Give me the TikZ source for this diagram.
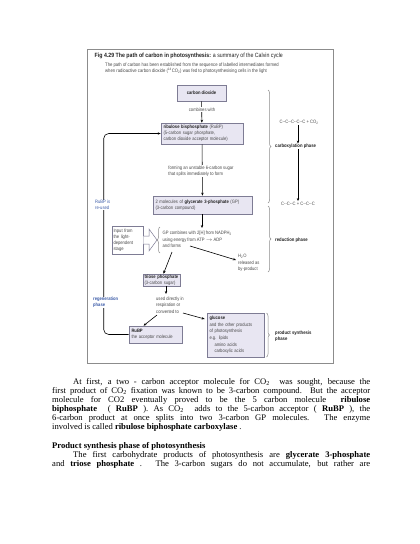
\documentclass[tikz,border=0pt]{standalone}
\usepackage{fontspec}
\setmainfont{Liberation Serif}
\newfontfamily\dfont[FakeStretch=0.86]{Liberation Sans}
\usetikzlibrary{arrows.meta,decorations.pathreplacing,calc}
\definecolor{boxfill}{HTML}{E8E6F2}
\definecolor{boxline}{HTML}{7E7C94}
\definecolor{dtext}{HTML}{484848}
\definecolor{dbold}{HTML}{222222}
\definecolor{bluet}{HTML}{3A5AA8}
\definecolor{framec}{HTML}{8C8C8C}
\newcommand\bld[1]{\textbf{\color{dbold}#1}}
\begin{document}
\begin{tikzpicture}[x=1pt,y=-1pt,
  box/.style={draw=boxline, fill=boxfill, line width=0.6pt, inner xsep=2.5pt, inner ysep=1pt, align=left,
    font=\dfont\fontsize{4.8}{6.1}\selectfont, text=dtext},
  lbl/.style={inner sep=0.5pt, font=\dfont\fontsize{4.8}{6.4}\selectfont, text=dtext, align=left},
  plbl/.style={inner sep=0.5pt, font=\dfont\bfseries\fontsize{4.9}{6.4}\selectfont, text=dbold, align=left, anchor=west},
  arr/.style={-{Stealth[length=3pt,width=2.4pt]}, line width=0.6pt},
  brc/.style={decorate, decoration={brace, amplitude=3pt}, draw=framec, line width=0.5pt},
  body/.style={anchor=base west, inner sep=0pt, font=\fontsize{8.6}{9.5}\selectfont}
]
\fill[white] (0,0) rectangle (420,544);
\useasboundingbox (0,0) rectangle (420,544);
% frame
\draw[framec, line width=0.8pt] (87,49) rectangle (333,363);
% title
\node[anchor=west, inner sep=0pt, font=\dfont\fontsize{6.1}{7}\selectfont, text=dbold] (title) at (94.5,56)
  {\textbf{Fig 4.29 The path of carbon in photosynthesis:} a summary of the Calvin cycle};
\node[anchor=north west, inner sep=0pt, align=left, font=\dfont\fontsize{4.9}{6.2}\selectfont, text=dtext] (sub) at (105,63)
  {The path of carbon has been established from the sequence of labelled intermediates formed\\
   when radioactive carbon dioxide (\textsuperscript{14}CO\textsubscript{2}) was fed to photosynthesising cells in the light};
% boxes
\node[box, minimum width=49pt, minimum height=16pt, align=center] (co2) at (201.5,93) {\bld{carbon dioxide}};
\node[box, text width=77pt, minimum height=21pt] (rubp) at (202,133.5)
  {\bld{ribulose bisphosphate} (RuBP)\\(5-carbon sugar phosphate,\\carbon dioxide acceptor molecule)};
\node[box, text width=94pt, minimum height=18pt] (gp) at (202.5,205)
  {2 molecules of \bld{glycerate 3-phosphate} (GP)\\(3-carbon compound)};
\node[box, text width=34pt, minimum height=12pt, inner xsep=1.5pt, inner ysep=0.5pt] (triose) at (161.5,280)
  {\bld{triose phosphate}\\(3-carbon sugar)};
\node[box, text width=48pt, minimum height=17pt] (rubp2) at (155.5,334.5)
  {\bld{RuBP}\\the acceptor molecule};
\node[box, text width=52pt, minimum height=44pt, font=\dfont\fontsize{4.8}{6.6}\selectfont] (gluc) at (235.5,335)
  {\bld{glucose}\\and the other products\\of photosynthesis\\e.g. lipids\\\hspace*{5pt}amino acids\\\hspace*{5pt}carboxylic acids};
% input from light-dependent stage
\node[draw=boxline, line width=0.5pt, fill=white, text width=28pt, minimum height=28pt, inner xsep=1.5pt, inner ysep=1pt,
  align=left, font=\dfont\fontsize{4.8}{6}\selectfont, text=dtext] (inp) at (127.5,240)
  {Input from\\the light-\\dependent\\stage};
\draw[boxline, line width=0.5pt, fill=white] (inp.east |- 0,236) -- (149,236) -- (149,229) -- (157,240) -- (149,251) -- (149,244) -- (inp.east |- 0,244);
% coordinates
\coordinate (gpin) at (202,228);
\coordinate (formsa) at (172,252);
\coordinate (formsb) at (190,246);
\coordinate (h2oin) at (236,260);
\coordinate (usedin) at (166,294);
\coordinate (conva) at (157,315);
\coordinate (convb) at (183,313);
% connectors
\draw[arr] (co2) -- (rubp);
\draw[arr] (rubp) -- (gp);
\draw[arr] (gp.south -| gpin) -- (gpin);
\draw[arr] (formsa) -- ($(triose.north)+(2,0)$);
\draw[arr] (formsb) -- (h2oin);
\draw[arr] ($(triose.south)+(4.5,0)$) -- (usedin);
\draw[arr] (conva) -- ($(rubp2.north)+(-12,0)$);
\draw[arr] (convb) -- ($(gluc.west)+(-2,-16)$);
\draw[arr, rounded corners=5pt] (rubp2.west) -| ([xshift=-57pt]rubp.west) -- (rubp.west);
% text labels
\node[lbl, fill=white, align=center] (comb) at (202,109.5) {combines with};
\node[lbl, fill=white] (form) at (201,171) {forming an unstable 6-carbon sugar\\that splits immediately to form};
\node[lbl, anchor=west] (gptxt) at (162,239.5) {GP combines with 2[H] from NADPH\textsubscript{2}\\using energy from ATP $\to$ ADP\\and forms};
\draw[brc] (160,253) -- (160,227);
\node[lbl, anchor=west] (h2o) at (237.5,263) {H\textsubscript{2}O\\released as\\by-product};
\node[lbl, anchor=west] (used) at (155.5,305) {used directly in\\respiration or\\converted to};
\node[lbl, fill=white, text=bluet, anchor=west] (reuse) at (94.5,205) {RuBP is\\re-used};
\node[lbl, fill=white, text=bluet, anchor=west, font=\dfont\bfseries\fontsize{4.8}{6.4}\selectfont] (regen) at (92.5,302.5) {regeneration\\phase};
% right column
\node[lbl, align=center] (c5) at (299,122) {C--C--C--C--C + CO\textsubscript{2}};
\node[plbl] (carb) at (274.5,146.5) {carboxylation phase};
\node[lbl, align=center] (c3) at (298,203.5) {C--C--C + C--C--C};
\draw[arr] (c5.south -| 298,0) -- (carb.north -| 298,0);
\draw[arr] (carb.south -| 298,0) -- (c3.north -| 298,0);
\draw[brc] (268,90) -- (268,203);
\draw[brc] (268,206) -- (268,272);
\node[plbl] (red) at (274.5,240) {reduction phase};
\draw[brc] (266.5,313) -- (266.5,357);
\node[plbl] (prod) at (274.5,336) {product synthesis\\phase};
% body text
\node[body] (t1) at (73,384.5) {\makebox[297pt][s]{At first, a two - carbon acceptor molecule for CO\textsubscript{2}\ \ was sought, because the}};
\node[body] (t2) at (52,393.5) {\makebox[318pt][s]{first product of CO\textsubscript{2} fixation was known to be 3-carbon compound. But the acceptor}};
\node[body] (t3) at (52,402.5) {\makebox[318pt][s]{molecule for CO2 eventually proved to be the 5 carbon molecule \ \textbf{ribulose}}};
\node[body] (t4) at (52,411.5) {\makebox[318pt][s]{\textbf{biphosphate} \ ( \textbf{RuBP} ). As CO\textsubscript{2} \ adds to the 5-carbon acceptor ( \textbf{RuBP} ), the}};
\node[body] (t5) at (52,420.5) {\makebox[318pt][s]{6-carbon product at once splits into two 3-carbon GP molecules. The enzyme}};
\node[body] (t6) at (52,429.5) {involved is called \textbf{ribulose biphosphate carboxylase} .};
\node[body] (t7) at (52,448.5) {\textbf{Product synthesis phase of photosynthesis}};
\node[body] (t8) at (73,457.5) {\makebox[297pt][s]{The first carbohydrate products of photosynthesis are \textbf{glycerate 3-phosphate}}};
\node[body] (t9) at (52,466.5) {\makebox[318pt][s]{and \textbf{triose phosphate} . The 3-carbon sugars do not accumulate, but rather are}};
\end{tikzpicture}
\end{document}
